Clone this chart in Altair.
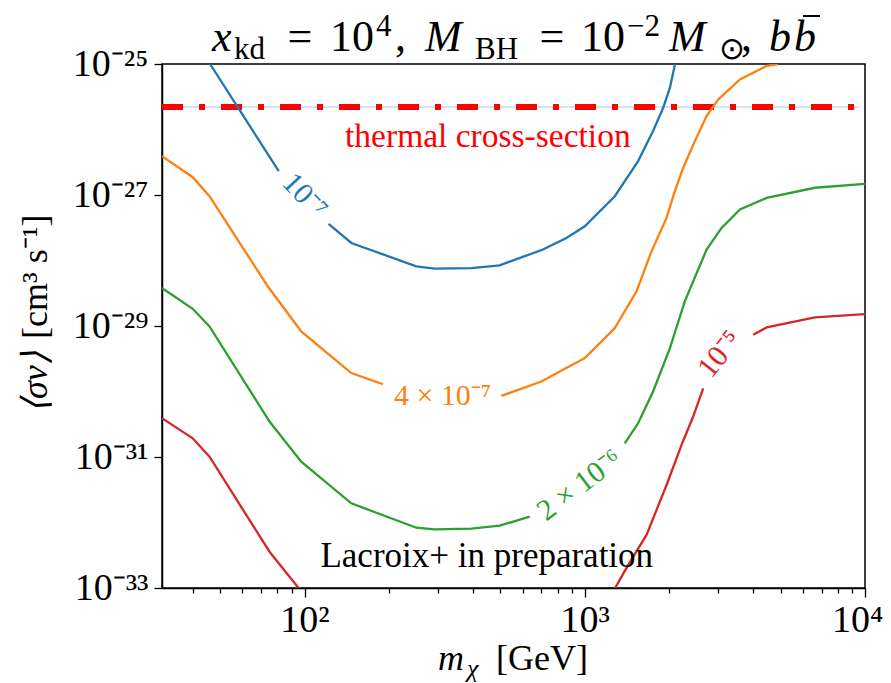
import altair as alt
import pandas as pd

FONT = "Liberation Serif"

# ---- data (m in GeV, <sigma v> in cm^3/s) ----
BLUE_M_A = [46, 80.9]
BLUE_SV_A = [1.0e-25, 2.31e-27]
BLUE_M_B = [121.8, 146.9, 250.6, 291, 393.9, 496.7, 709, 860, 1000, 1280, 1550, 1753, 1905, 2013, 2100]
BLUE_SV_B = [3.61e-28, 1.85e-28, 8.15e-29, 7.52e-29, 7.67e-29, 8.45e-29, 1.47e-28, 2.21e-28,
             3.33e-28, 9.59e-28, 3.29e-27, 9.46e-27, 2.15e-26, 4.35e-26, 1.0e-25]

ORANGE_M_A = [31, 39.9, 45.8, 73.9, 97.3, 146.8, 190.5]
ORANGE_SV_A = [3.92e-27, 1.87e-27, 9.59e-28, 4.04e-29, 8.26e-30, 1.91e-30, 1.29e-30]
ORANGE_M_B = [504, 700, 836.6, 1000, 1280, 1530, 1731, 1958, 2095, 2244, 2471, 2721, 2994, 3579, 4460, 4890]
ORANGE_SV_B = [8.59e-31, 1.42e-30, 2.15e-30, 3.23e-30, 9.29e-30, 3.38e-29, 1.38e-28, 4.47e-28,
               1.14e-27, 2.59e-27, 6.65e-27, 1.60e-26, 2.88e-26, 5.83e-26, 9.33e-26, 1.0e-25]

GREEN_M_A = [31, 39.9, 45.8, 75, 97.3, 146.8, 250.6, 291, 393.9, 496.7, 636]
GREEN_SV_A = [3.80e-29, 1.83e-29, 9.86e-30, 3.48e-31, 8.51e-32, 1.96e-32, 8.32e-33, 7.83e-33,
              8.04e-33, 8.93e-33, 1.23e-32]
GREEN_M_B = [1389, 1550, 1753, 2013, 2275, 2721, 3077, 3579, 4460, 6627, 10000]
GREEN_SV_B = [1.62e-31, 3.27e-31, 1.0e-30, 4.59e-30, 2.38e-29, 1.47e-28, 3.14e-28, 6.00e-28,
              9.04e-28, 1.29e-27, 1.48e-27]

RED_M_A = [31, 39.9, 45.8, 75, 97.3]
RED_SV_A = [3.91e-31, 1.93e-31, 1.01e-31, 3.58e-33, 8.9e-34]
RED_M_B = [1280, 1428, 1661, 1958, 2215, 2437, 2646]
RED_SV_B = [9.8e-34, 2.24e-33, 6.46e-33, 3.74e-32, 1.53e-31, 4.15e-31, 1.12e-30]
RED_M_C = [3990, 4460, 6627, 10000]
RED_SV_C = [7.36e-30, 9.53e-30, 1.35e-29, 1.52e-29]

THERMAL_M = [31, 9500]
THERMAL_SV = [2.2e-26, 2.2e-26]

X_TICKS = [40, 50, 60, 70, 80, 90, 100, 200, 300, 400, 500, 600, 700, 800, 900,
           1000, 2000, 3000, 4000, 5000, 6000, 7000, 8000, 9000, 10000]
Y_TICKS = [1e-33, 1e-31, 1e-29, 1e-27, 1e-25]

COLORS = {"blue": "#1f77b4", "orange": "#ff7f0e", "green": "#2ca02c", "red": "#d62728"}

rows = []
def add(name, seg, ms, svs):
    for i, (m, s) in enumerate(zip(ms, svs)):
        rows.append({"m": m, "sv": s, "seg": name + seg, "col": COLORS[name], "i": i})

add("blue", "a", BLUE_M_A, BLUE_SV_A)
add("blue", "b", BLUE_M_B, BLUE_SV_B)
add("orange", "a", ORANGE_M_A, ORANGE_SV_A)
add("orange", "b", ORANGE_M_B, ORANGE_SV_B)
add("green", "a", GREEN_M_A, GREEN_SV_A)
add("green", "b", GREEN_M_B, GREEN_SV_B)
add("red", "a", RED_M_A, RED_SV_A)
add("red", "b", RED_M_B, RED_SV_B)
add("red", "c", RED_M_C, RED_SV_C)
curves = pd.DataFrame(rows)
thermal = pd.DataFrame({"m": THERMAL_M, "sv": THERMAL_SV})
ONE = pd.DataFrame({"k": [0]})

xs = alt.Scale(type="log", domain=[31, 10000], nice=False)
ys = alt.Scale(type="log", domain=[1e-33, 1e-25], nice=False)

x_label = ("datum.value == 100 ? '10²' : datum.value == 1000 ? '10³' : "
           "datum.value == 10000 ? '10⁴' : ''")
major_test = "datum.value == 100 || datum.value == 1000 || datum.value == 10000"
xaxis = alt.Axis(values=X_TICKS, labelExpr=x_label, title=None, grid=False,
                 tickSize={"condition": {"test": major_test, "value": 9}, "value": 5},
                 tickColor="black", tickWidth=1.3, domainColor="black", domainWidth=1.5,
                 labelFont=FONT, labelFontSize=38, labelColor="black", labelPadding=4,
                 labelOffset={"condition": {"test": "datum.value == 10000", "value": -8}, "value": 0},
                 labelOverlap=False, labelFlush=False)
e = "round(log(datum.value)/LN10)"
y_label = ("'10' + (" + e + " == -25 ? '⁻²⁵' : " + e + " == -27 ? '⁻²⁷' : " + e +
           " == -29 ? '⁻²⁹' : " + e + " == -31 ? '⁻³¹' : '⁻³³')")
yaxis = alt.Axis(values=Y_TICKS, labelExpr=y_label, title=None, grid=False, tickSize=8,
                 tickColor="black", tickWidth=1.3, domainColor="black", domainWidth=1.5,
                 labelFont=FONT, labelFontSize=38, labelColor="black", labelPadding=6,
                 labelOverlap=False, labelFlush=False)

X = lambda: alt.X("m:Q", scale=xs, axis=xaxis)
Y = lambda: alt.Y("sv:Q", scale=ys, axis=yaxis)

light = alt.Chart(thermal).mark_line(color="#d3e5e8", strokeWidth=2).encode(x=X(), y=Y())
red_dash = alt.Chart(thermal).mark_line(color="#ff0000", strokeWidth=6, strokeDash=[21, 16, 6, 16],
                                        strokeCap="butt").encode(x=X(), y=Y())

lines = alt.Chart(curves).mark_line(strokeWidth=2.3, clip=True).encode(
    x=X(), y=Y(),
    color=alt.Color("col:N", scale=None),
    detail="seg:N",
    order="i:Q",
)


def data_text(s, m, sv, angle, color, size=30, baseline="middle"):
    return alt.Chart(ONE).mark_text(text=s, font=FONT, fontSize=size, align="center",
                                    baseline=baseline, angle=angle, color=color).encode(
        x=alt.XDatum(m, scale=xs, axis=xaxis), y=alt.YDatum(sv, scale=ys, axis=yaxis))


def val_text(s, x, y, size, style="normal", align="left", angle=0, color="black",
             baseline="alphabetic"):
    return alt.Chart(ONE).mark_text(text=s, font=FONT, fontSize=size, fontStyle=style,
                                    align=align, baseline=baseline, angle=angle,
                                    color=color).encode(x=alt.value(x), y=alt.value(y))


labels = [
    data_text("10⁻⁷", 100, 9.66e-28, 47, COLORS["blue"]),
    data_text("4 × 10⁻⁷", 311, 8.5e-31, 0, COLORS["orange"]),
    data_text("2 × 10⁻⁶", 959, 3.7e-32, 323, COLORS["green"]),
    data_text("10⁻⁵", 3034, 3.7e-30, 309, COLORS["red"]),
    data_text("thermal cross-section", 451, 5.41e-27, 0, "#ff0000", size=33.5, baseline="alphabetic"),
    data_text("Lacroix+ in preparation", 447, 2.11e-33, 0, "black", size=35, baseline="alphabetic"),
]

T, S = 44, 31
title = [
    val_text("x", 50, -13, T, "italic"),
    val_text("kd", 72, -5, S),
    val_text("=", 138, -13, T, align="center"),
    val_text("10", 168, -13, T),
    val_text("4", 214, -28, S),
    val_text(",", 233, -13, T),
    val_text("M", 263, -13, T, "italic"),
    val_text("BH", 313, -5, S),
    val_text("=", 390, -13, T, align="center"),
    val_text("10", 419, -13, T),
    val_text("−2", 465, -28, S),
    val_text("M", 507, -13, T, "italic"),
    val_text("⊙", 557, -5, S),
    val_text(",", 579, -13, T),
    val_text("b", 607, -13, T, "italic"),
    val_text("b", 632, -13, T, "italic"),
]
bbar = alt.Chart(ONE).mark_rule(color="black", strokeWidth=2).encode(
    x=alt.value(641), x2=alt.value(658), y=alt.value(-48))

axis_titles = [
    val_text("m", 276, 606, 36, "italic"),
    val_text("χ", 305, 613, 26, "italic"),
    val_text("[GeV]", 334, 606, 36),
    val_text("⟨σv⟩", -115, 349, 36, "italic", angle=270),
    val_text("[cm³ s⁻¹]", -115, 275, 36, angle=270),
]

chart = alt.layer(light, red_dash, lines, *labels, *title, bbar, *axis_titles).properties(
    width=703, height=524,
    padding={"left": 154, "top": 56, "right": 18, "bottom": 94},
    autosize=alt.AutoSizeParams(type="none"),
).configure(background="white").configure_view(stroke="black", strokeWidth=1.5)

chart.save("out.html", embed_options={"renderer": "svg", "actions": False})
